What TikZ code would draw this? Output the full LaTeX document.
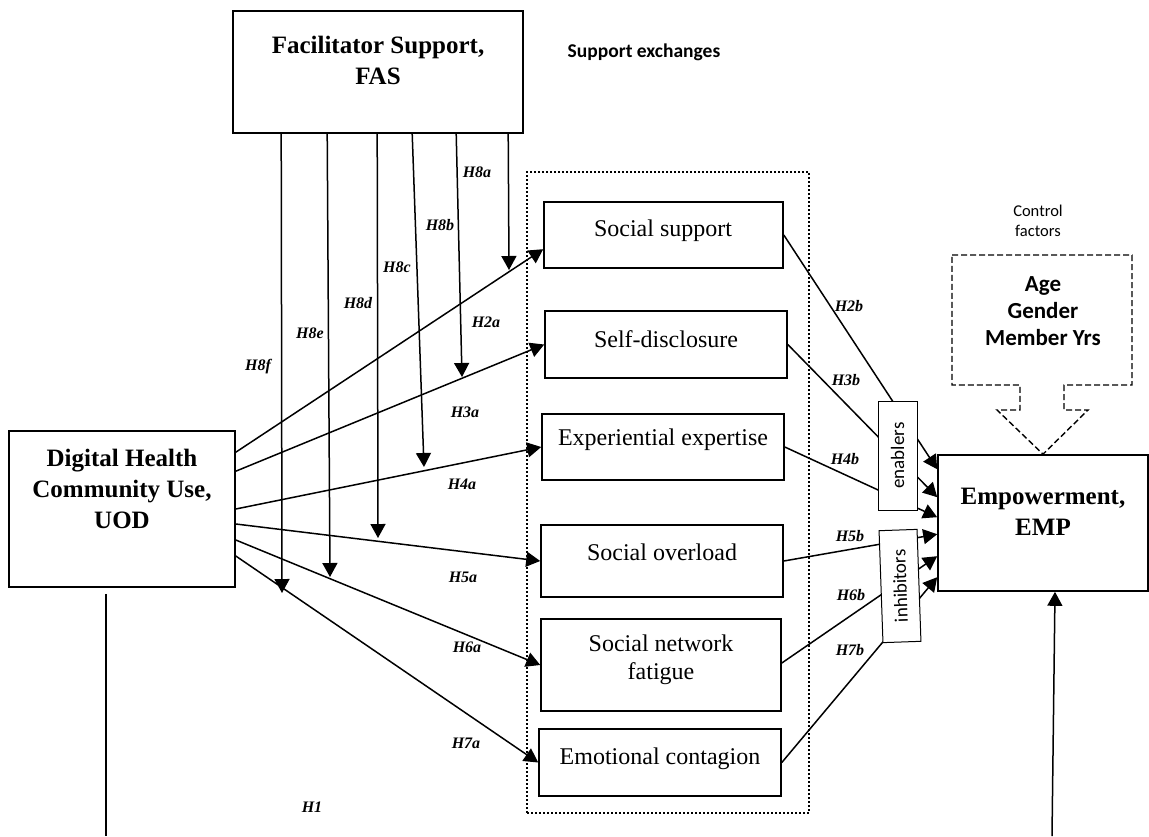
\documentclass[tikz,border=0pt]{standalone}
\usepackage{fontspec}
\setmainfont{Liberation Serif}
\newfontfamily\carl{Carlito}
\usetikzlibrary{arrows.meta,calc}
\begin{document}
\begin{tikzpicture}[x=1pt,y=-1pt,
  bx/.style={draw,line width=1.6pt,inner sep=0pt},
  tagbox/.style={draw,line width=1pt,fill=white,inner sep=0pt,font={\carl\fontsize{19}{22}\selectfont}},
  bigtext/.style={font={\fontsize{25}{31}\selectfont\bfseries},align=center},
  midtext/.style={font={\fontsize{24}{28}\selectfont},align=center},
  hlab/.style={font={\fontsize{16}{18}\selectfont\bfseries\itshape}},
  ln/.style={line width=1.5pt},
  arr/.style={line width=1.5pt,-{Triangle[length=14pt,width=15pt]}},
  grpbox/.style={draw,line width=2pt,dash pattern=on 2pt off 2pt,inner sep=0pt},
  callout/.style={line width=1.4pt,dash pattern=on 6pt off 3pt}
]
\useasboundingbox (0,0) rectangle (1149,836);

% main boxes
\node[bx,minimum width=290pt,minimum height=122pt] (fas) at (378,72) {};
\node[bx,minimum width=226pt,minimum height=156pt] (uod) at (122,509) {};
\node[bx,minimum width=210pt,minimum height=136pt] (emp) at (1043,523) {};

\node[bigtext] (fastxt) at (378,60) {Facilitator Support,\\FAS};
\node[bigtext] (uodtxt) at (122,489) {Digital Health\\Community Use,\\UOD};
\node[bigtext] (emptxt) at (1043,512) {Empowerment,\\EMP};

% group of support exchanges
\node[grpbox,minimum width=282pt,minimum height=641pt] (grp) at (668,492.5) {};
\node[font={\carl\bfseries\fontsize{19.5}{22}\selectfont}] (grptxt) at (644,52) {Support exchanges};

\node[bx,minimum width=239pt,minimum height=66pt] (ss) at (663.5,235) {};
\node[bx,minimum width=242pt,minimum height=67pt] (sd) at (666,344.5) {};
\node[bx,minimum width=242pt,minimum height=66pt] (ee) at (663,447) {};
\node[bx,minimum width=242pt,minimum height=72pt] (so) at (662,561) {};
\node[bx,minimum width=240pt,minimum height=92pt] (snf) at (661,665) {};
\node[bx,minimum width=242pt,minimum height=67pt] (ec) at (660,762.5) {};

\node[midtext] (sstxt) at (663,231) {Social support};
\node[midtext] (sdtxt) at (666,339) {Self-disclosure};
\node[midtext] (eetxt) at (663,440) {Experiential expertise};
\node[midtext] (sotxt) at (662,552) {Social overload};
\node[midtext] (snftxt) at (661,660) {Social network\\fatigue};
\node[midtext] (ectxt) at (660,759) {Emotional contagion};

% UOD -> support exchanges
\draw[arr] ([yshift=-22pt]uod.north east) -- ([yshift=-48pt]ss.north west);
\draw[arr] ([yshift=-41pt]uod.north east) -- (sd.west);
\draw[arr] (uod.east) -- (ee.west);
\draw[arr] ([yshift=-15pt]uod.east) -- (so.west);
\draw[arr] ([yshift=-31pt]uod.east) -- (snf.west);
\draw[arr] ([yshift=-47pt]uod.east) -- (ec.west);

% support exchanges -> EMP
\draw[arr] (ss.east) -- ([yshift=-15pt]emp.north west);
\draw[arr] (sd.east) -- ([yshift=-43pt]emp.north west);
\draw[arr] (ee.east) -- ([yshift=-63pt]emp.north west);
\draw[arr] (so.east) -- ([yshift=-80pt]emp.north west);
\draw[arr] ([yshift=2pt]snf.east) -- ([yshift=-102pt]emp.north west);
\draw[arr] (ec.east) -- ([yshift=-123pt]emp.north west);

\node[tagbox,rotate=90,minimum width=109pt,minimum height=39pt] (enab) at (897.5,455.5) {enablers};
\node[tagbox,rotate=92,minimum width=112pt,minimum height=38pt] (inhib) at (900,586) {inhibitors};

% moderation arrows from FAS
\coordinate (t8a) at (509,270);
\coordinate (t8b) at (462,377);
\coordinate (t8c) at (424,467);
\coordinate (t8d) at (378,538);
\coordinate (t8e) at (330,577);
\coordinate (t8f) at (282,593);
\draw[arr] ([xshift=276pt]fas.south west) -- (t8a);
\draw[arr] ([xshift=224pt]fas.south west) -- (t8b);
\draw[arr] ([xshift=180pt]fas.south west) -- (t8c);
\draw[arr] ([xshift=145pt]fas.south west) -- (t8d);
\draw[arr] ([xshift=95pt]fas.south west) -- (t8e);
\draw[arr] ([xshift=49pt]fas.south west) -- (t8f);

% H1
\coordinate (h1l) at (106,836);
\coordinate (h1r) at (1052,836);
\draw[ln] ([xshift=-16pt,yshift=-6pt]uod.south) -- (h1l);
\draw[arr] (h1r) -- ([xshift=12pt]emp.south);

% control factors
\node[font={\carl\fontsize{16.5}{20}\selectfont},align=center] (ctltxt) at (1038,221) {Control\\factors};
\draw[callout] (952,255) -- (1132,255) -- (1132,385) -- (1064,385) -- (1064,410) -- (1088,410)
  -- (emp.north) -- (997,410) -- (1020,410) -- (1020,385) -- (952,385) -- cycle;
\node[font={\carl\bfseries\fontsize{23}{27}\selectfont},align=center] (ctrl) at (1043,311) {Age\\Gender\\Member Yrs};

% labels
\node[hlab] (l8a) at (477,172) {H8a};
\node[hlab] (l8b) at (440,225) {H8b};
\node[hlab] (l8c) at (397,267) {H8c};
\node[hlab] (l8d) at (358,303) {H8d};
\node[hlab] (l8e) at (310,333) {H8e};
\node[hlab] (l8f) at (258,367) {H8f};
\node[hlab] (l2a) at (486,322) {H2a};
\node[hlab] (l3a) at (465,412) {H3a};
\node[hlab] (l4a) at (462,484) {H4a};
\node[hlab] (l5a) at (463,577) {H5a};
\node[hlab] (l6a) at (467,647) {H6a};
\node[hlab] (l7a) at (466,743) {H7a};
\node[hlab] (l2b) at (849,306) {H2b};
\node[hlab] (l3b) at (846,380) {H3b};
\node[hlab] (l4b) at (845,459) {H4b};
\node[hlab] (l5b) at (850,536) {H5b};
\node[hlab] (l6b) at (851,595) {H6b};
\node[hlab] (l7b) at (850,650) {H7b};
\node[hlab] (l1) at (312,807) {H1};
\end{tikzpicture}
\end{document}
